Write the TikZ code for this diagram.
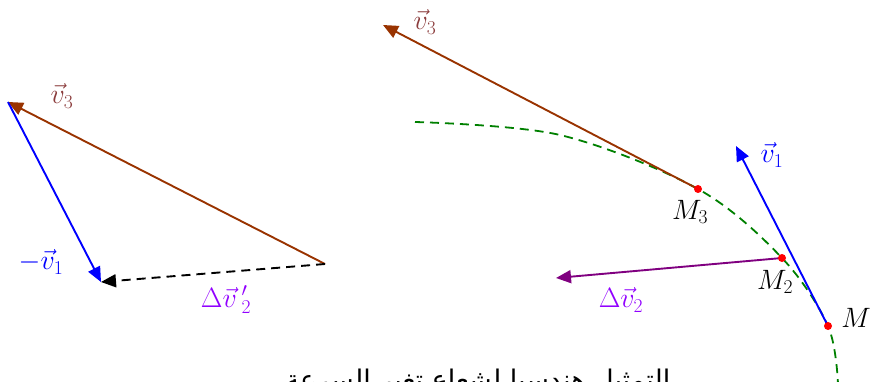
\documentclass[tikz,border=0pt]{standalone}
\usepackage{fix-cm}
\usepackage{fontspec}
\usetikzlibrary{arrows.meta}
\TeXXeTstate=1
\newfontfamily\arabicfont[Script=Arabic]{DejaVu Sans}
\definecolor{vbrown}{RGB}{153,51,0}
\definecolor{lbrown}{RGB}{139,60,60}
\definecolor{vblue}{RGB}{0,0,255}
\definecolor{vpurple}{RGB}{128,0,128}
\definecolor{lviolet}{RGB}{145,0,255}
\definecolor{vgreen}{RGB}{0,128,0}
\tikzset{
  vec/.style={line width=1.9pt,-{Triangle[length=15pt,width=13pt]}},
  lbl/.style={inner sep=0pt,font=\fontsize{28}{32}\selectfont},
  dot/.style={circle,fill=red,inner sep=0pt,minimum size=8pt},
}
\begin{document}
\begin{tikzpicture}[x=1pt,y=-1pt]
\useasboundingbox (0,0) rectangle (870,382);
% left triangle
\coordinate (A) at (8,102);
\coordinate (B) at (325,264);
\coordinate (C) at (101,282);
\draw[vec,vbrown] (B) -- (A);
\draw[vec,vblue] (A) -- (C);
\draw[vec,black,dashed,dash pattern=on 9pt off 6pt] (B) -- (C);
\node[lbl,text=lbrown] (lv3a) at (62,96) {$\vec{v}_3$};
\node[lbl,text=vblue] (lv1a) at (41,262) {$-\vec{v}_1$};
\node[lbl,text=lviolet] (ldva) at (226,300) {$\Delta\vec{v}\,'_2$};
% trajectory
\draw[vgreen,line width=1.8pt,dash pattern=on 9pt off 6pt]
  plot[smooth,tension=0.55] coordinates {(415,122) (560,135) (698,189) (782,258) (828,326) (838,384)};
% points
\coordinate (M3) at (698,189);
\coordinate (M2) at (782,258);
\coordinate (M) at (828,326);
\coordinate (T3) at (383,25);
\coordinate (T1) at (736,146);
\coordinate (T2) at (556,278);
\draw[vec,vbrown] (M3) -- (T3);
\draw[vec,vblue] (M) -- (T1);
\draw[vec,vpurple] (M2) -- (T2);
\node[dot] (dM3) at (M3) {};
\node[dot] (dM2) at (M2) {};
\node[dot] (dM) at (M) {};
\node[lbl,text=lbrown] (lv3b) at (425,22) {$\vec{v}_3$};
\node[lbl,text=vblue] (lv1b) at (772,155) {$\vec{v}_1$};
\node[lbl,text=lviolet] (ldvb) at (621,300) {$\Delta\vec{v}_2$};
\node[lbl] (lM3) at (690,212) {$M_3$};
\node[lbl] (lM2) at (775,282) {$M_2$};
\node[lbl] (lM) at (856,318) {$M$};
\node[anchor=base,inner sep=0pt,font=\fontsize{27}{30}\selectfont] (cap) at (478,389) {\arabicfont\beginR التمثيل هندسيا لشعاع تغير السرعة\endR};
\end{tikzpicture}
\end{document}
